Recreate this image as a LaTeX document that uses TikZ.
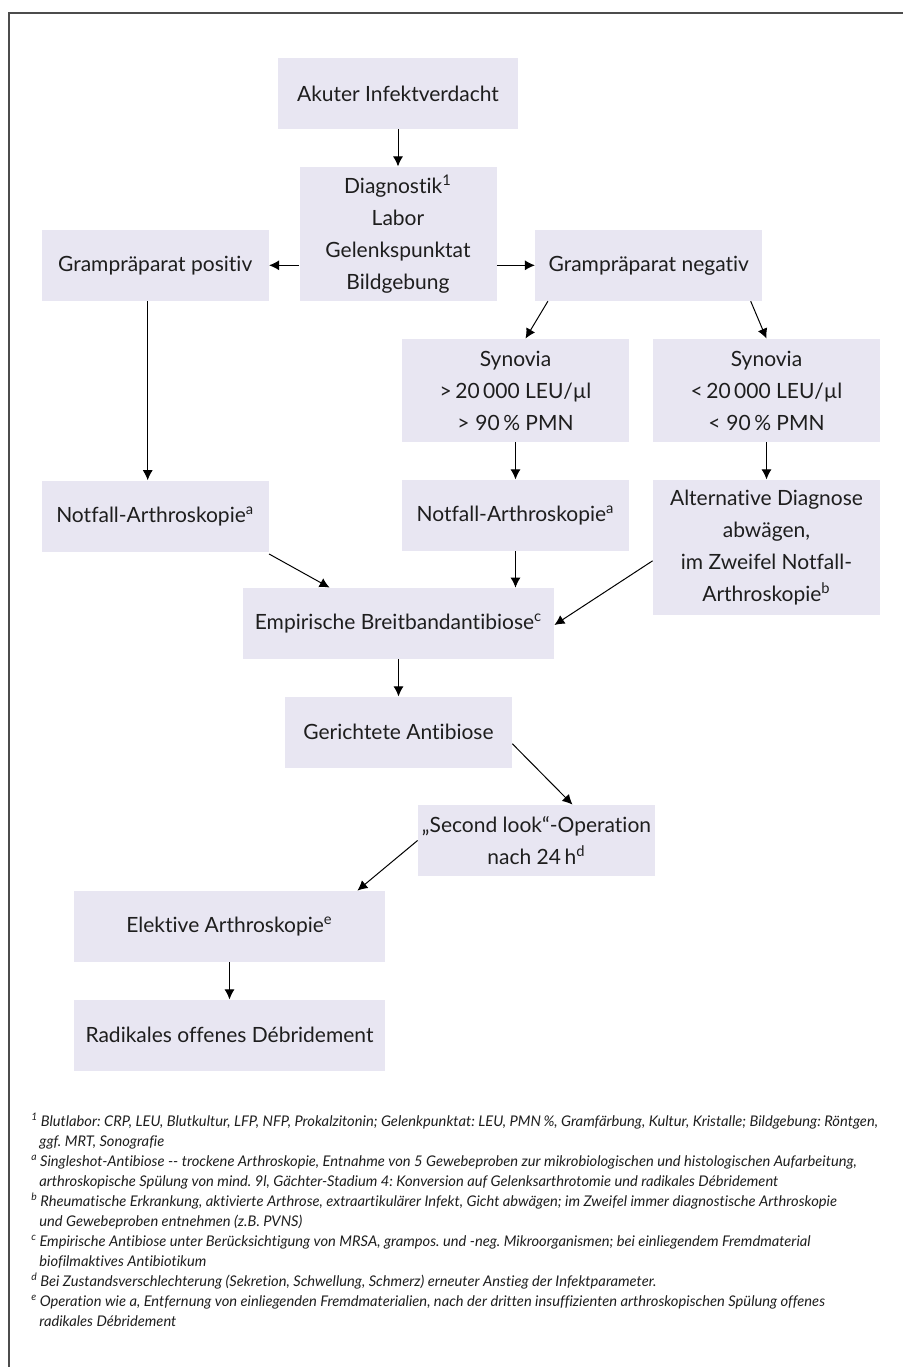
\documentclass[tikz,border=0pt]{standalone}
\usepackage{fontspec}
\setmainfont{Lato}[Ligatures={TeX,NoCommon}]
\usepackage{tikz}
\usetikzlibrary{arrows.meta,positioning}
\definecolor{boxfill}{RGB}{232,230,242}
\definecolor{textgray}{RGB}{30,30,30}
\tikzset{
  box/.style   = {fill=boxfill, minimum width=113.5pt, minimum height=35.5pt, inner sep=2pt,
                  align=center, text=textgray, font=\fontsize{10.5}{16}\selectfont},
  wide/.style  = {minimum width=155.5pt},
  line/.style  = {-{Latex[length=5pt,width=5pt]}, line width=0.5pt},
  frame/.style = {draw=black!70, line width=0.8pt},
  notes/.style = {align=left, inner sep=0pt, text=textgray,
                  font=\fontsize{7.35}{10}\selectfont\itshape\frenchspacing},
}

\begin{document}
\begin{tikzpicture}[x=0.5pt, y=-0.5pt, node distance=18.5pt]
    \useasboundingbox (0,0) rectangle (903,1367);
    \draw[frame] (903,13) -- (9,13) -- (9,1367);

    \node[box, minimum width=120pt] (verdacht) at (398,93.5) {Akuter Infektverdacht};
    \node[box, minimum width=98.5pt, minimum height=67pt, below=of verdacht] (diag)
      {Diagnostik\textsuperscript{1}\\ Labor\\ Gelenkspunktat\\ Bildgebung};
    \node[box, left=15pt of diag.south west, anchor=south east] (grampos) {Grampräparat positiv};
    \node[box, right=19pt of diag.south east, anchor=south west] (gramneg) {Grampräparat negativ};
    \node[box, minimum height=51.5pt] (synhoch) at (515.5,390.5)
      {Synovia\\ >\,20\,000 LEU/µl\\ >\;90\,\% PMN};
    \node[box, minimum height=51.5pt] (synniedrig) at (766.5,390.5)
      {Synovia\\ <\,20\,000 LEU/µl\\ <\;90\,\% PMN};
    \node[box, below=89.5pt of grampos] (notfalllinks) {Notfall-Arthroskopie\textsuperscript{a}};
    \node[box, below=of synhoch] (notfallmitte) {Notfall-Arthroskopie\textsuperscript{a}};
    \node[box, minimum height=67.5pt, below=of synniedrig] (alternativ)
      {Alternative Diagnose\\ abwägen,\\ im Zweifel Notfall-\\ Arthroskopie\textsuperscript{b}};
    \node[box, wide] (empirisch) at (398.5,623.5) {Empirische Breitbandantibiose\textsuperscript{c}};
    \node[box, below=of empirisch] (gerichtet) {Gerichtete Antibiose};
    \node[box, minimum width=115.5pt] (secondlook) at (536.5,840.5)
      {„Second look“-Operation\\ nach 24\,h\textsuperscript{d}};
    \node[box, wide] (elektiv) at (229.5,926.5) {Elektive Arthroskopie\textsuperscript{e}};
    \node[box, wide, below=of elektiv] (radikal) {Radikales offenes Débridement};

    \draw[line] (verdacht) -- (diag);
    \draw[line] (diag.west |- grampos.east) -- (grampos.east);
    \draw[line] (diag.east |- gramneg.west) -- (gramneg.west);
    \draw[line] ([xshift=-3.75pt]grampos.south) -- ([xshift=-3.75pt]notfalllinks.north);
    \draw[line] ([xshift=6.5pt]gramneg.south west) -- ([xshift=5pt]synhoch.north);
    \draw[line] ([xshift=-6pt]gramneg.south east) -- (synniedrig.north);
    \draw[line] (synhoch) -- (notfallmitte);
    \draw[line] (synniedrig) -- (alternativ);
    \draw[line] ([yshift=-1pt]notfalllinks.south east) -- ([xshift=43.5pt]empirisch.north west);
    \draw[line] (notfallmitte.south) -- (notfallmitte.south |- empirisch.north);
    \draw[line] ([yshift=-6.75pt]alternativ.west) -- ([yshift=-0.75pt]empirisch.east);
    \draw[line] (empirisch) -- (gerichtet);
    \draw[line] ([yshift=-5.75pt]gerichtet.east) -- ([xshift=18pt]secondlook.north);
    \draw[line] (secondlook.west) -- ([xshift=-14pt]elektiv.north east);
    \draw[line] (elektiv) -- (radikal);

    % Fussnoten
    \node[notes, anchor=north west] (fussnoten) at (31,1113) {%
      \textsuperscript{1}\,Blutlabor: CRP, LEU, Blutkultur, LFP, NFP, Prokalzitonin; Gelenkpunktat: LEU, PMN\,\%, Gramfärbung, Kultur, Kristalle; Bildgebung: Röntgen,\\
      \hspace*{4pt}ggf. MRT, Sonografie\\
      \textsuperscript{a}\,Singleshot-Antibiose -{}- trockene Arthroskopie, Entnahme von 5 Gewebeproben zur mikrobiologischen und histologischen Aufarbeitung,\\
      \hspace*{4pt}arthroskopische Spülung von mind. 9l, Gächter-Stadium 4: Konversion auf Gelenksarthrotomie und radikales Débridement\\
      \textsuperscript{b}\,Rheumatische Erkrankung, aktivierte Arthrose, extraartikulärer Infekt, Gicht abwägen; im Zweifel immer diagnostische Arthroskopie\\
      \hspace*{4pt}und Gewebeproben entnehmen (z.B. PVNS)\\
      \textsuperscript{c}\,Empirische Antibiose unter Berücksichtigung von MRSA, grampos. und -neg. Mikroorganismen; bei einliegendem Fremdmaterial\\
      \hspace*{4pt}biofilmaktives Antibiotikum\\
      \textsuperscript{d}\,Bei Zustandsverschlechterung (Sekretion, Schwellung, Schmerz) erneuter Anstieg der Infektparameter.\\
      \textsuperscript{e}\,Operation wie a, Entfernung von einliegenden Fremdmaterialien, nach der dritten insuffizienten arthroskopischen Spülung offenes\\
      \hspace*{4pt}radikales Débridement};
  \end{tikzpicture}
\end{document}
